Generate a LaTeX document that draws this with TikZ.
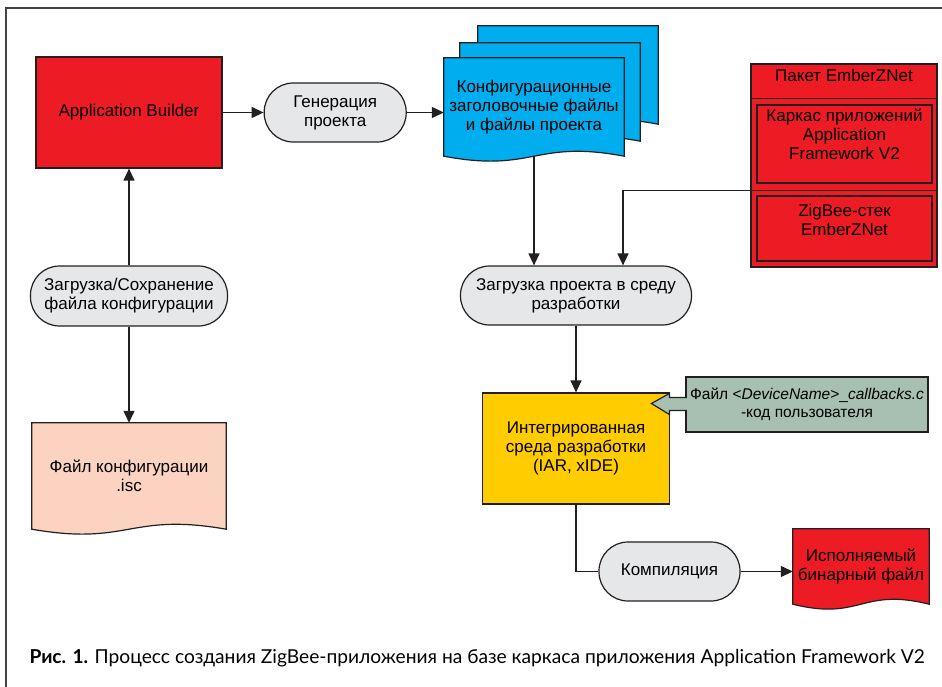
\documentclass[tikz,border=0pt]{standalone}
\usepackage{fontspec}
\setmainfont{Liberation Sans}
\newfontfamily\capfont{Lato}
\usetikzlibrary{arrows.meta, positioning, calc, backgrounds}
\definecolor{abred}{RGB}{237,28,36}
\definecolor{docblue}{RGB}{0,174,239}
\definecolor{procgray}{RGB}{230,231,232}
\definecolor{iscpeach}{RGB}{251,211,192}
\definecolor{ideyellow}{RGB}{255,204,0}
\definecolor{cbsage}{RGB}{168,192,178}
\definecolor{linedark}{RGB}{35,31,32}

% document shape with a wavy bottom, drawn round a node: name, fill, shift
\newcommand{\docwave}[3]{%
  \filldraw[fill=#2, draw=linedark, line width=1.2pt]
    ([shift={#3}]#1.north west) -- ([shift={#3}]#1.north east) -- ([shift={#3}]#1.south east)
    .. controls ($([shift={#3}]#1.south)+(0,-17)$) and ($([shift={#3}]#1.south)+(0,17)$)
    .. ([shift={#3}]#1.south west) -- cycle;}

\begin{document}
\begin{tikzpicture}[
  x=1pt, y=-1pt,
  font=\fontsize{17}{19}\selectfont,
  box/.style={rectangle, draw=linedark, line width=1.2pt, align=center, inner sep=2pt},
  proc/.style={rectangle, rounded corners=29pt, draw=linedark, line width=1.2pt, fill=procgray, align=center, minimum height=59pt, inner sep=2pt},
  doc/.style={rectangle, align=center, inner sep=2pt},
  arrow/.style={->, >={Triangle[length=12pt, width=11pt]}, line width=1.2pt, draw=linedark},
  link/.style={line width=1.2pt, draw=linedark}
]
\useasboundingbox (0,0) rectangle (942,687);
\draw[line width=1.5pt, linedark!85] (6,687) -- (6,8) -- (942,8);

\node[box, fill=abred, minimum width=186pt, minimum height=111pt] (ab) at (129,112.5) {Application Builder};
\node[proc, minimum width=142pt, right=41pt of ab] (gen) {Генерация\\проекта};
\node[doc, minimum width=180pt, minimum height=98pt] (conf) at (534,107) {Конфигурационные\\заголовочные файлы\\и файлы проекта};
\node[proc, minimum width=197pt, minimum height=60pt] (save) at (129,296) {Загрузка/Сохранение\\файла конфигурации};
\node[doc, minimum width=194pt, minimum height=106pt] (isc) at (129,476) {Файл конфигурации\\.isc};

\node[box, fill=abred, minimum width=186pt, minimum height=203pt] (ember) at (844,165.5) {};
\node[anchor=base] (pkt) at (844,82) {Пакет EmberZNet};
\node[box, minimum width=175pt, minimum height=78pt] (fw) at (844.5,144) {};
\node[align=center, anchor=north, below=1pt of fw.north] (fwtxt) {Каркас приложений\\Application\\Framework V2};
\node[box, minimum width=175pt, minimum height=65pt] (zig) at (844.5,228.5) {};
\node[align=center, anchor=north, below=5pt of zig.north] (zigtxt) {ZigBee-стек\\EmberZNet};
\coordinate (split) at ($(ember.north west)+(0,127)$);
\draw[link] ($(ember.north west)+(0,35)$) -- ($(ember.north east)+(0,35)$);
\draw[link] (split) -- (split -| ember.east);

\node[proc, minimum width=231pt] (load) at (576,295.5) {Загрузка проекта в среду\\разработки};
\coordinate (loadin) at ($(load.north)+(47,0)$);
\node[box, fill=ideyellow, minimum width=187pt, minimum height=111pt] (ide) at (576,448.5) {Интегрированная\\среда разработки\\(IAR, xIDE)};
\node[box, fill=cbsage, minimum width=242pt, minimum height=55pt, font=\fontsize{15.5}{18}\selectfont] (cb) at (807,404.5) {Файл <\textit{DeviceName}>\_\textit{callbacks.c}\\-код пользователя};
\node[proc, minimum width=141pt] (comp) at (669.5,571.5) {Компиляция};
\node[doc, minimum width=136pt, minimum height=75pt] (bin) at (861,566.5) {Исполняемый\\бинарный файл};

\begin{scope}[on background layer]
\docwave{conf}{docblue}{(34,-32)}
\docwave{conf}{docblue}{(16,-15)}
\docwave{conf}{docblue}{(0,0)}
\docwave{isc}{iscpeach}{(0,0)}
\docwave{bin}{abred}{(0,0)}
\end{scope}

\draw[arrow] (ab) -- (gen);
\draw[arrow] (gen.east) -- (gen.east -| conf.west);
\draw[arrow] (save) -- (ab);
\draw[arrow] (save) -- (isc);
\draw[arrow] (conf.south) -- (conf.south |- load.north);
\draw[arrow] (split) -| (loadin);
\draw[arrow] (load) -- (ide);
\draw[fill=cbsage, draw=linedark, line width=1.2pt]
  ($(cb.west)+(1.5,-7)$) -- ++(-17.5,0) -- ++(0,-4) -- ($(cb.west)+(-34,-1)$)
  -- ($(cb.west)+(-16,10)$) -- ++(0,-4) -- ($(cb.west)+(1.5,6)$);
\draw[link] (ide) |- (comp);
\draw[arrow] (comp.east) -- (comp.east -| bin.west);

\node[anchor=base west, font=\capfont\fontsize{19.2}{22}\selectfont] (cap) at (26,663) {\textbf{Рис. 1.} Процесс создания ZigBee-приложения на базе каркаса приложения Application Framework V2};
\end{tikzpicture}
\end{document}
